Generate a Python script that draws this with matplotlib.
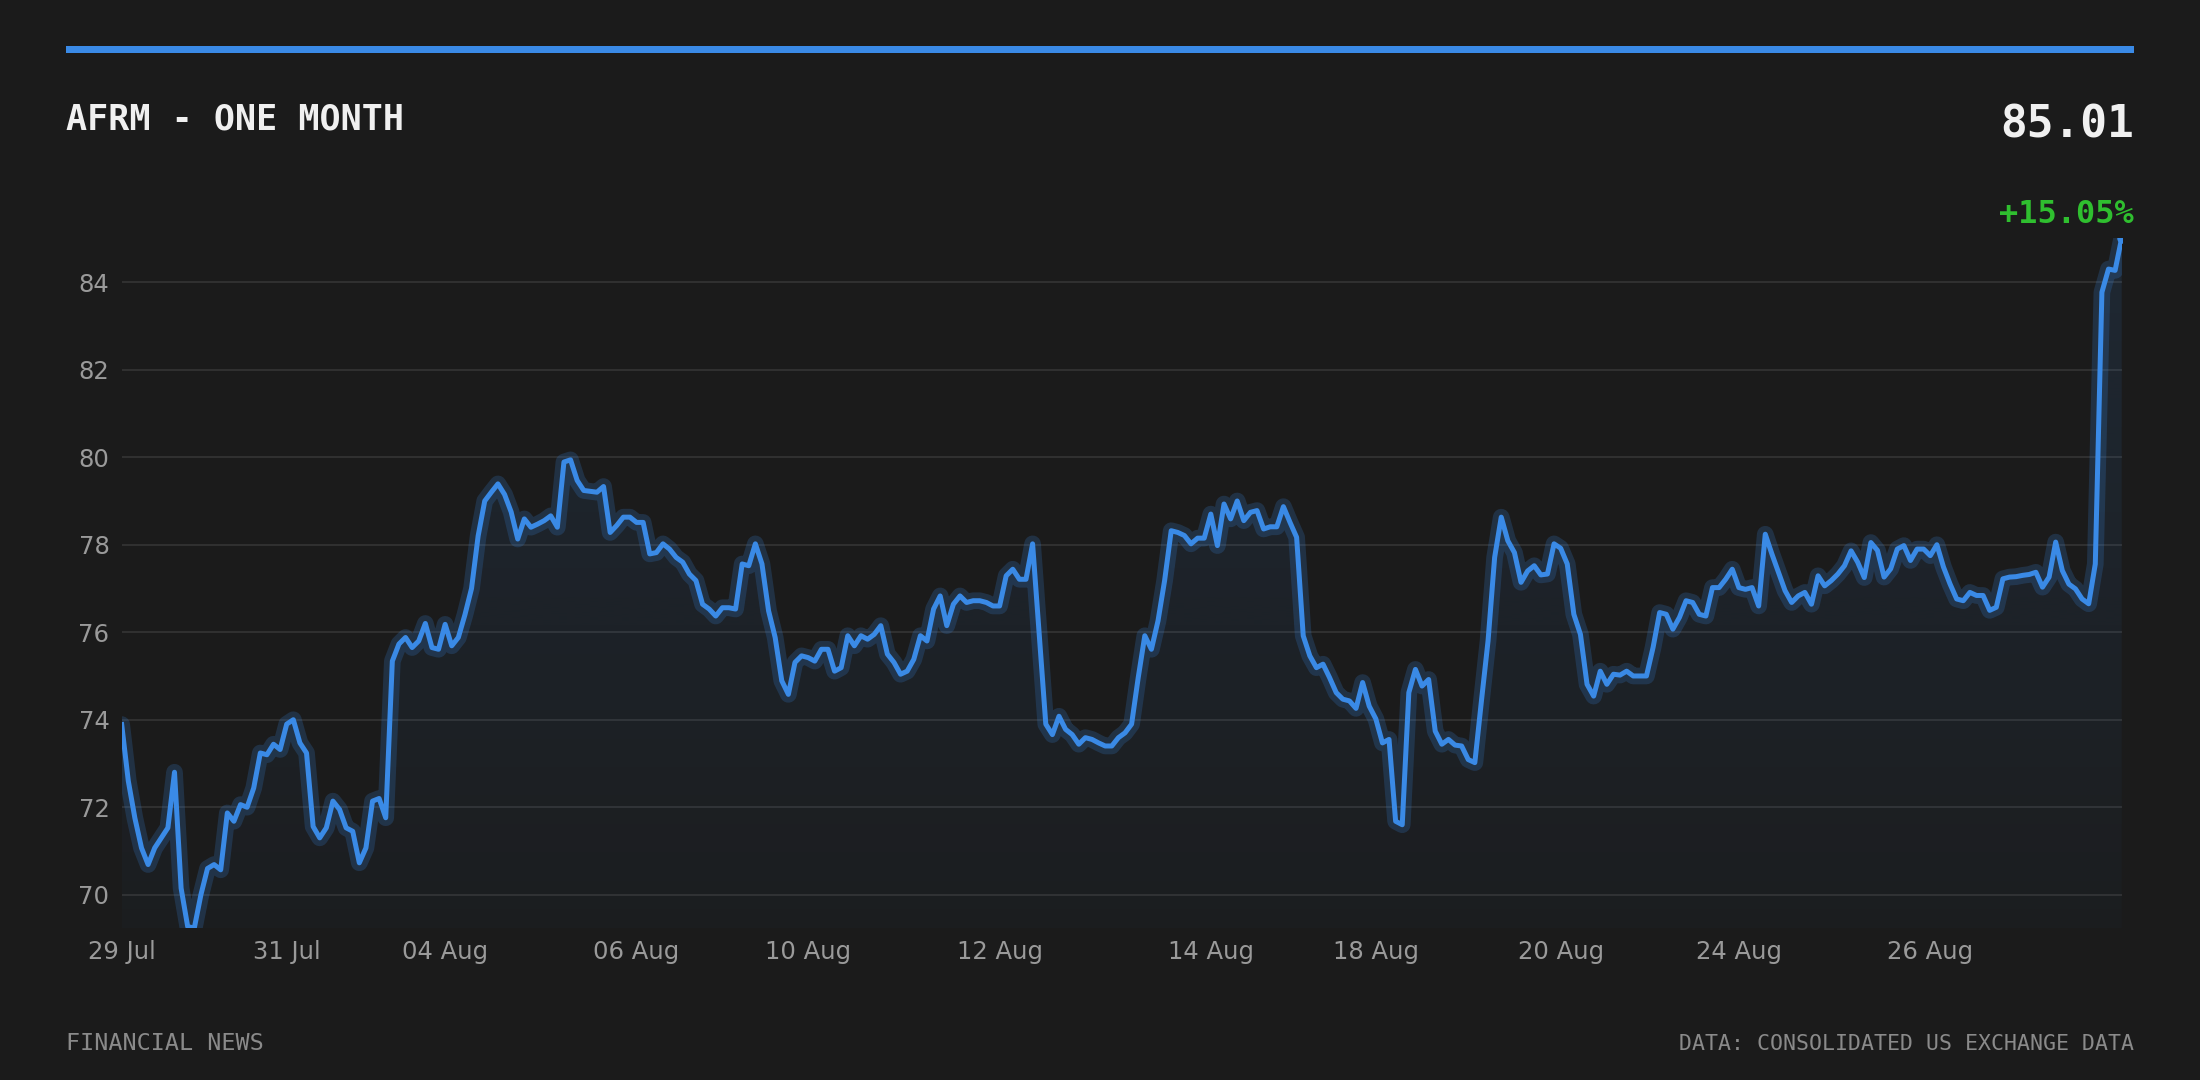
import numpy as np
import matplotlib
matplotlib.use("Agg")
import matplotlib.pyplot as plt
from matplotlib.patches import Rectangle
from matplotlib.colors import to_rgb

# ---------------- data ----------------
ticker = "AFRM"
period = "ONE MONTH"
brand = "FINANCIAL NEWS"
source = "DATA: CONSOLIDATED US EXCHANGE DATA"

prices = [
    73.89, 72.60, 71.75, 71.07, 70.69, 71.07, 71.30, 71.53, 72.80, 70.15,
    69.27, 69.24, 70.00, 70.60, 70.69, 70.57, 71.87, 71.68, 72.06, 72.00,
    72.44, 73.24, 73.20, 73.44, 73.32, 73.90, 74.00, 73.47, 73.24, 71.56,
    71.30, 71.53, 72.14, 71.95, 71.53, 71.45, 70.73, 71.07, 72.14, 72.20,
    71.76, 75.34, 75.73, 75.88, 75.65, 75.80, 76.20, 75.65, 75.61, 76.18,
    75.69, 75.88, 76.40, 77.00, 78.20, 79.00, 79.20, 79.39, 79.15, 78.75,
    78.13, 78.59, 78.40, 78.47, 78.55, 78.66, 78.40, 79.89, 79.94, 79.47,
    79.24, 79.22, 79.20, 79.33, 78.28, 78.44, 78.63, 78.63, 78.51, 78.51,
    77.79, 77.82, 78.02, 77.90, 77.71, 77.60, 77.33, 77.18, 76.64, 76.53,
    76.37, 76.56, 76.56, 76.53, 77.56, 77.52, 78.02, 77.56, 76.49, 75.88,
    74.89, 74.58, 75.31, 75.46, 75.42, 75.34, 75.61, 75.61, 75.11, 75.19,
    75.92, 75.69, 75.92, 75.84, 75.95, 76.15, 75.50, 75.31, 75.04, 75.11,
    75.38, 75.92, 75.80, 76.53, 76.83, 76.15, 76.64, 76.83, 76.68, 76.72,
    76.72, 76.68, 76.60, 76.60, 77.29, 77.44, 77.21, 77.21, 78.02, 75.95,
    73.90, 73.66, 74.08, 73.78, 73.66, 73.44, 73.59, 73.55, 73.47, 73.40,
    73.40, 73.59, 73.70, 73.90, 74.96, 75.92, 75.61, 76.26, 77.18, 78.32,
    78.28, 78.21, 78.02, 78.15, 78.15, 78.70, 77.98, 78.93, 78.59, 79.00,
    78.55, 78.74, 78.78, 78.36, 78.41, 78.41, 78.87, 78.51, 78.17, 75.92,
    75.46, 75.19, 75.27, 74.96, 74.62, 74.47, 74.43, 74.26, 74.85, 74.31,
    74.02, 73.47, 73.55, 71.68, 71.60, 74.62, 75.15, 74.77, 74.92, 73.74,
    73.44, 73.55, 73.42, 73.40, 73.09, 73.02, 74.43, 75.80, 77.71, 78.63,
    78.09, 77.82, 77.14, 77.40, 77.52, 77.31, 77.33, 78.02, 77.92, 77.56,
    76.41, 75.95, 74.81, 74.54, 75.11, 74.81, 75.04, 75.02, 75.11, 75.00,
    75.00, 75.00, 75.65, 76.45, 76.41, 76.07, 76.34, 76.72, 76.68, 76.41,
    76.37, 77.02, 77.02, 77.21, 77.44, 77.02, 76.98, 77.02, 76.60, 78.24,
    77.79, 77.37, 76.95, 76.68, 76.83, 76.91, 76.64, 77.29, 77.06, 77.18,
    77.33, 77.52, 77.86, 77.60, 77.25, 78.05, 77.87, 77.26, 77.45, 77.90,
    77.98, 77.64, 77.90, 77.90, 77.75, 78.00, 77.49, 77.10, 76.76, 76.72,
    76.91, 76.84, 76.84, 76.50, 76.57, 77.22, 77.26, 77.27, 77.30, 77.32,
    77.37, 77.03, 77.26, 78.06, 77.41, 77.10, 76.99, 76.76, 76.65, 77.56,
    83.77, 84.30, 84.27, 85.01,
]

tick_idx = [0, 25, 49, 78, 104, 133, 165, 190, 218, 245, 274]
tick_labels = ["29 Jul", "31 Jul", "04 Aug", "06 Aug", "10 Aug", "12 Aug",
               "14 Aug", "18 Aug", "20 Aug", "24 Aug", "26 Aug"]
y_ticks = [70, 72, 74, 76, 78, 80, 82, 84]

# ---------------- style ----------------
BG = "#1b1b1b"
BLUE = "#3a8ae6"
GREEN = "#2fbf2f"
GRID = "#353535"
TICK = "#9a9a9a"
FOOT = "#8a8a8a"
WHITE = "#f0f0f0"
MONO = "DejaVu Sans Mono"

W, H = 2200, 1080
fig = plt.figure(figsize=(W / 100, H / 100), dpi=100, facecolor=BG)

ax = fig.add_axes([121.7 / W, 1 - 928 / H, 2000 / W, 690 / H])
ax.set_facecolor(BG)

x = np.arange(len(prices))
y = np.array(prices, dtype=float)
ymin, ymax = y.min(), y.max()

# gradient area under the line
poly = ax.fill_between(x, y, ymin, facecolor="none", edgecolor="none")
rgba = np.zeros((256, 1, 4))
rgba[..., :3] = to_rgb(BLUE)
rgba[:, 0, 3] = np.linspace(0.12, 0.025, 256)
im = ax.imshow(rgba, extent=[x[0], x[-1], ymin, ymax], aspect="auto",
               origin="upper", zorder=1, interpolation="bilinear")
im.set_clip_path(poly.get_paths()[0], transform=ax.transData)

# glow + line
ax.plot(x, y, color=BLUE, lw=12, alpha=0.2, solid_joinstyle="round",
        solid_capstyle="round", zorder=2)
ax.plot(x, y, color=BLUE, lw=3.6, solid_joinstyle="round", zorder=3)
ax.plot(x[-1], y[-1], "o", color=BLUE, ms=6.5, zorder=4)

ax.set_xlim(x[0], x[-1])
ax.set_ylim(ymin, ymax)

ax.set_yticks(y_ticks)
ax.set_yticklabels([str(v) for v in y_ticks])
ax.set_xticks(tick_idx)
ax.set_xticklabels(tick_labels)
ax.grid(axis="y", color=GRID, lw=1.2)
ax.grid(axis="x", visible=False)
ax.set_axisbelow(True)
ax.tick_params(axis="both", length=0, colors=TICK, labelsize=17.5)
ax.tick_params(axis="y", pad=8.8)
ax.tick_params(axis="x", pad=8.8)
for s in ax.spines.values():
    s.set_visible(False)

# ---------------- header / footer ----------------
fig.add_artist(Rectangle((66 / W, 1 - 53 / H), (2134 - 66) / W, 7 / H,
                         transform=fig.transFigure, color=BLUE, lw=0))

last = y[-1]
pct = (y[-1] / y[0] - 1) * 100

fig.text(66 / W, 1 - 129.3 / H, f"{ticker} - {period}", family=MONO,
         weight="bold", size=25.2, color=WHITE, ha="left", va="baseline")
fig.text(2134 / W, 1 - 137.3 / H, f"{last:.2f}", family=MONO,
         weight="bold", size=32, color=WHITE, ha="right", va="baseline")
fig.text(2134 / W, 1 - 222.7 / H, f"{pct:+.2f}%", family=MONO,
         weight="bold", size=23, color=GREEN, ha="right", va="baseline")

fig.text(66 / W, 1 - 1050 / H, brand, family=MONO, size=16.8,
         color=FOOT, ha="left", va="baseline")
fig.text(2134 / W, 1 - 1049.5 / H, source, family=MONO, size=15.5,
         color=FOOT, ha="right", va="baseline")

fig.savefig("out.png", dpi=100, facecolor=BG)
